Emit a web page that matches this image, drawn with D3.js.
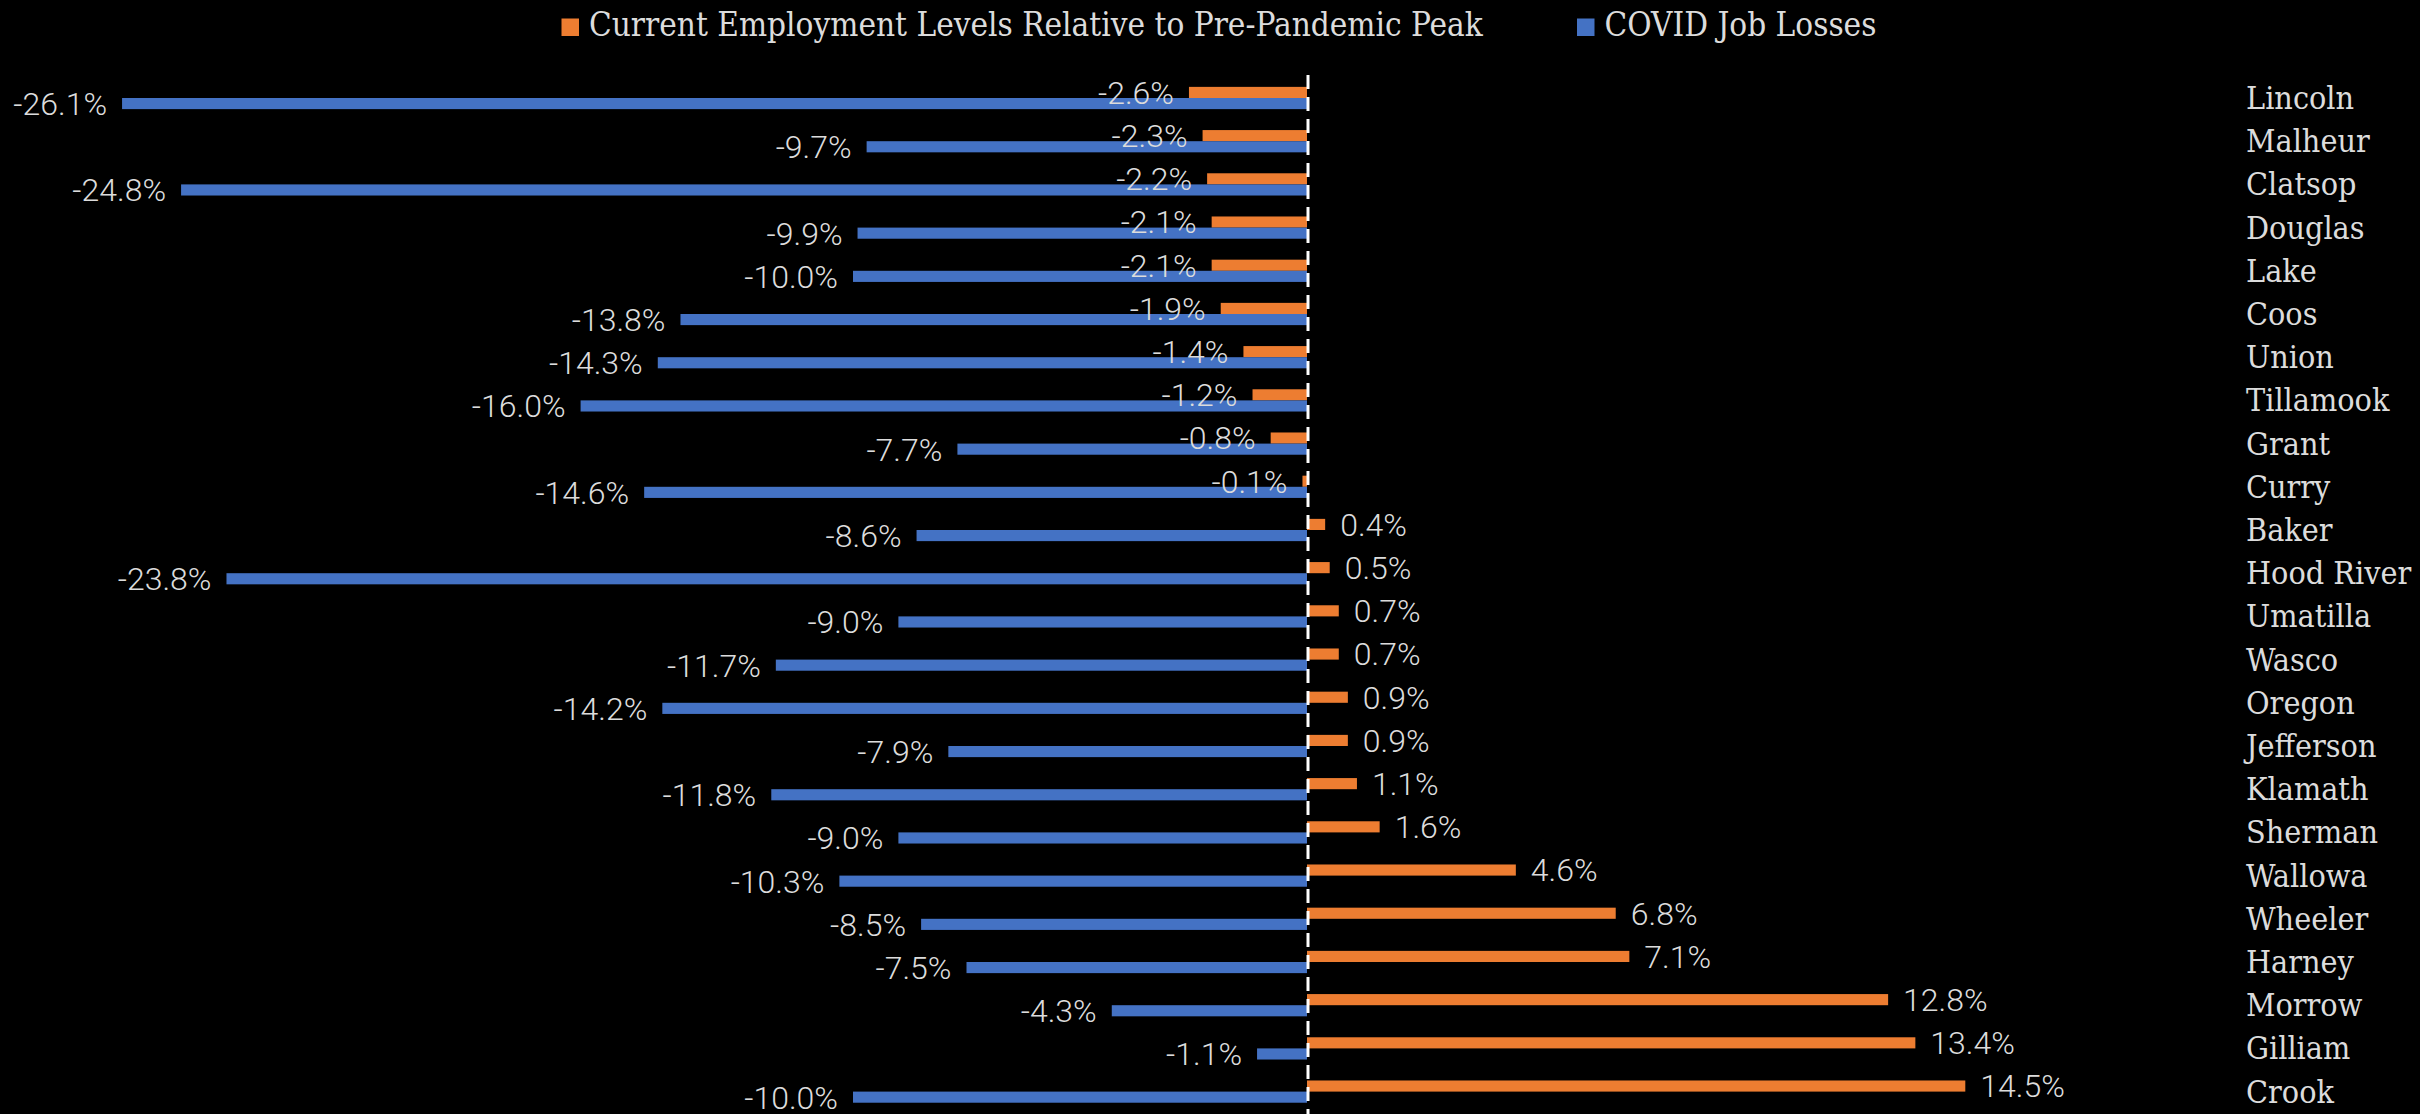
<!DOCTYPE html>
<html>
<head>
<meta charset="utf-8">
<script src="https://cdn.jsdelivr.net/npm/d3@7"></script>
<style>
  html, body { margin: 0; padding: 0; background: #000; }
  svg { display: block; }
  .slab { font-family: "DejaVu Serif Condensed", "DejaVu Serif", serif; font-stretch: condensed; }
  .num { font-family: Roboto, "Noto Sans", sans-serif; font-weight: 300; }
</style>
</head>
<body>
<svg id="chart" width="2420" height="1114"></svg>
<script>
const categories = ["Lincoln","Malheur","Clatsop","Douglas","Lake","Coos","Union","Tillamook","Grant","Curry","Baker","Hood River","Umatilla","Wasco","Oregon","Jefferson","Klamath","Sherman","Wallowa","Wheeler","Harney","Morrow","Gilliam","Crook"];
const currentEmployment = [-2.6,-2.3,-2.2,-2.1,-2.1,-1.9,-1.4,-1.2,-0.8,-0.1,0.4,0.5,0.7,0.7,0.9,0.9,1.1,1.6,4.6,6.8,7.1,12.8,13.4,14.5];
const covidLosses = [-26.1,-9.7,-24.8,-9.9,-10.0,-13.8,-14.3,-16.0,-7.7,-14.6,-8.6,-23.8,-9.0,-11.7,-14.2,-7.9,-11.8,-9.0,-10.3,-8.5,-7.5,-4.3,-1.1,-10.0];
const seriesNames = ["Current Employment Levels Relative to Pre-Pandemic Peak","COVID Job Losses"];
const seriesKeys = ["cur","loss"];
const seriesColors = ["#ED7D31","#4472C4"];

const svg = d3.select("#chart");
const W = 2420, H = 1114;
svg.append("rect").attr("width", W).attr("height", H).attr("fill", "#000");

const zeroX = 1307, ppu = 45.4;
const x = d3.scaleLinear().domain([-28, 20]).range([zeroX - 28*ppu, zeroX + 20*ppu]);
const y = d3.scaleBand().domain(categories).range([76.4, 1113.2]).paddingInner(0.485).paddingOuter(0.2425);
const ySub = d3.scaleBand().domain(seriesKeys).range([0, y.bandwidth()]);

const rows = categories.map((c, i) => ({cat: c, cur: currentEmployment[i], loss: covidLosses[i]}));
const fmt = v => (d3.format(".1f")(v) + "%").replace("\u2212", "-");
const textColor = "#dcdcdc";

const g = svg.append("g");
seriesKeys.forEach((k, si) => {
  g.selectAll("rect." + k).data(rows).enter().append("rect")
    .attr("class", k)
    .attr("x", d => Math.min(x(0), x(d[k])))
    .attr("width", d => Math.abs(x(d[k]) - x(0)))
    .attr("y", d => y(d.cat) + ySub(k))
    .attr("height", ySub.bandwidth())
    .attr("fill", seriesColors[si]);
});

// zero line
g.append("line")
  .attr("x1", x(0) + 1).attr("x2", x(0) + 1)
  .attr("y1", 75).attr("y2", H)
  .attr("stroke", "#ffffff").attr("stroke-width", 3)
  .attr("stroke-dasharray", "14,8");

// value labels
seriesKeys.forEach((k) => {
  g.selectAll("text.lbl-" + k).data(rows).enter().append("text")
    .attr("class", "num")
    .attr("x", d => d[k] < 0 ? x(d[k]) - 15 : x(d[k]) + 15)
    .attr("y", d => y(d.cat) + ySub(k) + ySub.bandwidth() / 2 + 11.4)
    .attr("text-anchor", d => d[k] < 0 ? "end" : "start")
    .attr("font-size", 32)
    .attr("fill", textColor)
    .text(d => fmt(d[k]));
});

// category labels
g.selectAll("text.cat").data(categories).enter().append("text")
  .attr("class", "slab")
  .attr("x", 2246)
  .attr("y", d => y(d) + y.bandwidth() / 2 + 11)
  .attr("font-size", 32)
  .attr("fill", textColor)
  .text(d => d);

// legend
const legendX = [561.5, 1577];
const leg = svg.append("g");
seriesNames.forEach((name, i) => {
  leg.append("rect").attr("x", legendX[i]).attr("y", 18.5).attr("width", 17.5).attr("height", 17.5).attr("fill", seriesColors[i]);
  leg.append("text").attr("class", "slab")
    .attr("x", legendX[i] + 27.5).attr("y", 36)
    .attr("font-size", 33).attr("fill", textColor)
    .text(name);
});
</script>
</body>
</html>
